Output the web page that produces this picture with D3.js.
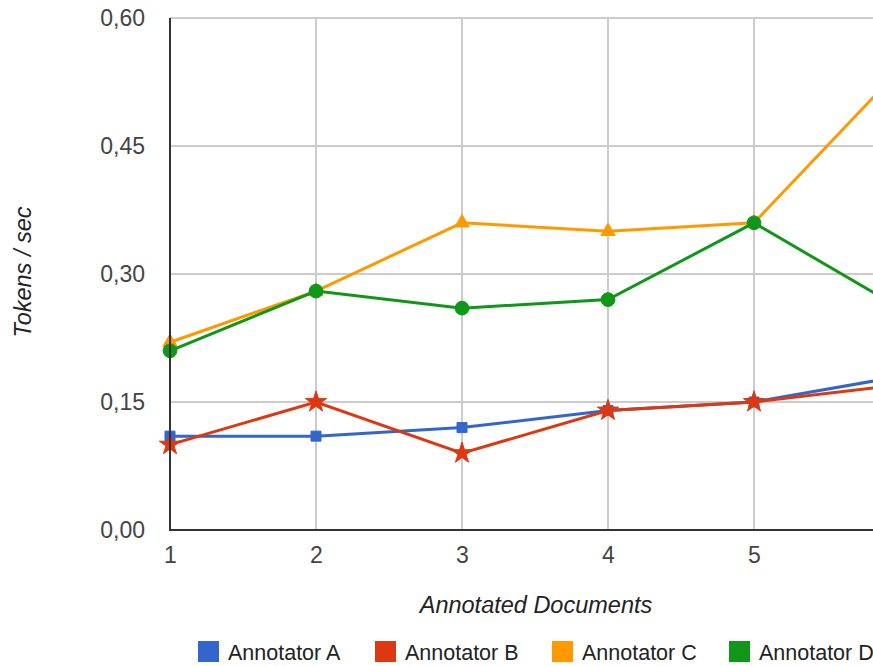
<!DOCTYPE html>
<html>
<head>
<meta charset="utf-8">
<script src="https://cdn.jsdelivr.net/npm/d3@7"></script>
<style>
  html, body { margin: 0; padding: 0; background: #fff; }
  svg { display: block; }
  text { font-family: "Liberation Sans", Arial, sans-serif; }
</style>
</head>
<body>
<svg id="chart" width="873" height="666"></svg>
<script>
// Documents annotated (x) and throughput per annotator (tokens / sec)
const documents = [1, 2, 3, 4, 5, 6];
const annotatorA = [0.11, 0.11, 0.12, 0.14, 0.15, 0.18];
const annotatorB = [0.10, 0.15, 0.09, 0.14, 0.15, 0.17];
const annotatorC = [0.22, 0.28, 0.36, 0.35, 0.36, 0.54];
const annotatorD = [0.21, 0.28, 0.26, 0.27, 0.36, 0.26];
const seriesNames = ["Annotator A", "Annotator B", "Annotator C", "Annotator D"];
const yTicks = [0, 0.15, 0.30, 0.45, 0.60];
const xTicks = [1, 2, 3, 4, 5, 6];

const colors = ["#3366cc", "#dc3912", "#ff9900", "#109618"];
const symbols = [d3.symbolSquare, d3.symbolStar, d3.symbolTriangle, d3.symbolCircle];
const symbolSizes = [100, 140, 90, 150];

const series = [annotatorA, annotatorB, annotatorC, annotatorD].map((vals, i) => ({
  name: seriesNames[i],
  color: colors[i],
  symbol: symbols[i],
  size: symbolSizes[i],
  points: documents.map((d, j) => ({ x: d, y: vals[j] }))
}));

const svg = d3.select("#chart");
const plotLeft = 170, plotTop = 18, plotBottom = 530;

const x = d3.scaleLinear().domain([1, 6]).range([plotLeft, plotLeft + 146 * 5]);
const y = d3.scaleLinear().domain([0, 0.6]).range([plotBottom, plotTop]);

const fmt = v => d3.format(".2f")(v).replace(".", ",");

// gridlines
const grid = svg.append("g");
grid.selectAll("line.h").data(yTicks.filter(t => t > 0)).enter().append("line")
  .attr("x1", plotLeft).attr("x2", 873)
  .attr("y1", d => y(d)).attr("y2", d => y(d))
  .attr("stroke", "#cccccc").attr("stroke-width", 2);
grid.selectAll("line.v").data(xTicks.filter(t => t > 1)).enter().append("line")
  .attr("x1", d => x(d)).attr("x2", d => x(d))
  .attr("y1", plotTop).attr("y2", plotBottom)
  .attr("stroke", "#cccccc").attr("stroke-width", 2);

// y axis labels
const yAxis = svg.append("g").attr("transform", `translate(${plotLeft},0)`)
  .call(d3.axisLeft(y).tickValues(yTicks).tickFormat(fmt).tickSize(0).tickPadding(25));
yAxis.select(".domain").remove();
yAxis.selectAll("text").attr("font-size", 23).attr("fill", "#444")
  .attr("font-family", "Liberation Sans, Arial, sans-serif");

// x axis labels
const xAxis = svg.append("g").attr("transform", `translate(0,${plotBottom})`)
  .call(d3.axisBottom(x).tickValues(xTicks.slice(0, 5)).tickFormat(d3.format("d")).tickSize(0).tickPadding(17));
xAxis.select(".domain").remove();
xAxis.selectAll("text").attr("font-size", 23).attr("fill", "#444")
  .attr("font-family", "Liberation Sans, Arial, sans-serif");

// lines and markers
const line = d3.line().x(d => x(d.x)).y(d => y(d.y));
series.forEach(s => {
  const g = svg.append("g");
  g.append("path").datum(s.points)
    .attr("d", line).attr("fill", "none")
    .attr("stroke", s.color).attr("stroke-width", 3);
  g.selectAll("path.m").data(s.points).enter().append("path")
    .attr("d", d3.symbol().type(s.symbol).size(s.size))
    .attr("transform", d => `translate(${x(d.x)},${y(d.y)})`)
    .attr("fill", s.color)
    .attr("stroke", s.color).attr("stroke-width", 1).attr("stroke-linejoin", "round");
});

// axis lines
svg.append("line").attr("x1", plotLeft).attr("x2", plotLeft).attr("y1", plotTop).attr("y2", plotBottom + 1)
  .attr("stroke", "#333").attr("stroke-width", 2);
svg.append("line").attr("x1", plotLeft - 1).attr("x2", 873).attr("y1", plotBottom).attr("y2", plotBottom)
  .attr("stroke", "#333").attr("stroke-width", 2);

// axis titles
svg.append("text").attr("x", 536).attr("y", 613).attr("text-anchor", "middle")
  .attr("font-size", 23.5).attr("font-style", "italic").attr("fill", "#222")
  .text("Annotated Documents");
svg.append("text").attr("transform", "translate(31,272) rotate(-90)")
  .attr("text-anchor", "middle").attr("font-size", 23.5).attr("font-style", "italic").attr("fill", "#222")
  .text("Tokens / sec");

// legend
const legend = svg.append("g").attr("transform", "translate(198,641)");
series.forEach((s, i) => {
  const g = legend.append("g").attr("transform", `translate(${i * 177},0)`);
  g.append("rect").attr("width", 21).attr("height", 21).attr("fill", s.color);
  g.append("text").attr("x", 30).attr("y", 18.5).attr("font-size", 21.5).attr("fill", "#222").text(s.name);
});
</script>
</body>
</html>
